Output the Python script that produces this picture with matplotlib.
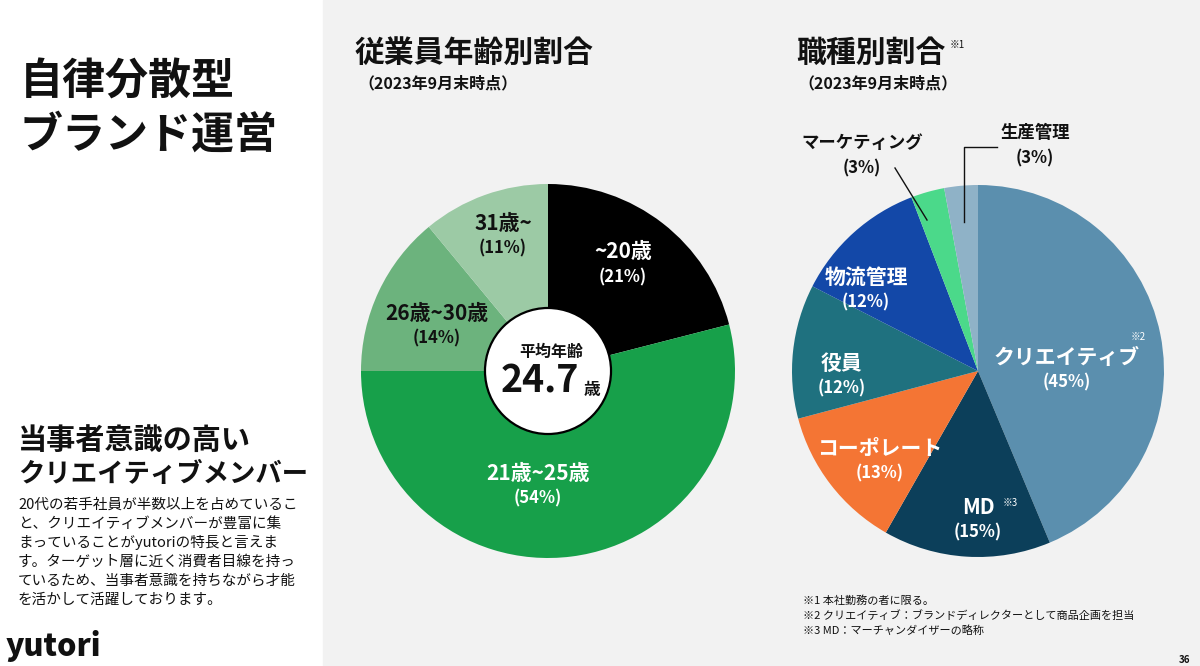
import matplotlib
matplotlib.use("Agg")
import matplotlib.pyplot as plt
from matplotlib.patches import Rectangle, Circle

plt.rcParams['font.family'] = ['Noto Sans CJK JP', 'DejaVu Sans']

# ---- data ----
age_labels = ["~20歳", "21歳~25歳", "26歳~30歳", "31歳~"]
age_values = [21, 54, 14, 11]
age_colors = ["#000000", "#17a04a", "#6cb37d", "#9ccaa5"]
age_text_colors = ["white", "white", "#111111", "#111111"]
avg_age = "24.7"

job_labels = ["クリエイティブ", "MD", "コーポレート", "役員", "物流管理", "マーケティング", "生産管理"]
job_values = [45, 15, 13, 12, 12, 3, 3]
job_colors = ["#5b8fae", "#0c3f5a", "#f47534", "#1f717f", "#1348a8", "#4bd98a", "#8fb2c7"]

W, H = 1200, 666
fig = plt.figure(figsize=(12, 6.66), dpi=100)

bg = fig.add_axes([0, 0, 1, 1], zorder=0)
bg.set_xlim(0, W); bg.set_ylim(H, 0); bg.axis('off')
bg.add_patch(Rectangle((0, 0), W, H, color="white"))
bg.add_patch(Rectangle((323, 0), W - 323, H, color="#f2f2f2"))

def pie_axes(cx, cy, r):
    ax = fig.add_axes([(cx - r) / W, (H - cy - r) / H, 2 * r / W, 2 * r / H], zorder=2)
    return ax

# ---- pie 1 ----
ax1 = pie_axes(548, 371, 187)
ax1.pie(age_values, colors=age_colors, startangle=90, counterclock=False,
        radius=1, wedgeprops=dict(linewidth=0))
ax1.set_xlim(-1, 1); ax1.set_ylim(-1, 1); ax1.set_aspect('equal'); ax1.axis('off')
ax1.add_patch(Circle((0, 0), 0.337, facecolor="white", edgecolor="black", linewidth=1.6, zorder=5))

# ---- pie 2 ----
ax2 = pie_axes(978, 371, 186)
ax2.pie(job_values, colors=job_colors, startangle=90, counterclock=False,
        radius=1, wedgeprops=dict(linewidth=0))
ax2.set_xlim(-1, 1); ax2.set_ylim(-1, 1); ax2.set_aspect('equal'); ax2.axis('off')

# ---- overlay for text ----
ov = fig.add_axes([0, 0, 1, 1], zorder=10)
ov.set_xlim(0, W); ov.set_ylim(H, 0); ov.axis('off'); ov.patch.set_alpha(0)

def t(x, y, s, size, color="#111111", weight="bold", ha="center", va="center"):
    ov.text(x, y, s, fontsize=size, color=color, fontweight=weight, ha=ha, va=va)

# left panel
t(20, 82, "自律分散型", 31, ha="left")
t(20, 135, "ブランド運営", 31, ha="left")
t(18, 440, "当事者意識の高い", 21, ha="left")
t(18, 474, "クリエイティブメンバー", 19, ha="left")
body = ["20代の若手社員が半数以上を占めているこ",
        "と、クリエイティブメンバーが豊富に集",
        "まっていることがyutoriの特長と言えま",
        "す。ターゲット層に近く消費者目線を持っ",
        "ているため、当事者意識を持ちながら才能",
        "を活かして活躍しております。"]
for i, line in enumerate(body):
    t(18, 505 + i * 19, line, 10.5, weight="normal", ha="left")
t(6, 646, "yutori", 22, weight="heavy", ha="left")

# titles
t(355, 53, "従業員年齢別割合", 21.5, ha="left")
t(358, 83, "（2023年9月末時点）", 11.5, ha="left")
t(796, 53, "職種別割合", 21.5, ha="left")
t(950, 45, "※1", 7, weight="normal", ha="left")
t(798, 83, "（2023年9月末時点）", 11.5, ha="left")

# pie 1 labels
age_pos = [(623, 252), (538, 473), (437, 313), (503, 223)]
for (x, y), lab, v, c in zip(age_pos, age_labels, age_values, age_text_colors):
    t(x, y, lab, 15, color=c)
    t(x, y + 25, f"({v}%)", 12, color=c, weight="semibold")
t(551, 352, "平均年齢", 11.5)
t(540, 381, avg_age, 27)
t(592, 390, "歳", 12)

# pie 2 labels
job_pos = [(1067, 357), (978, 507), (880, 448), (842, 363), (866, 277), (862, 143), (1035, 133)]
job_text_colors = ["white"] * 5 + ["#111111", "#111111"]
for (x, y), lab, v, c in zip(job_pos, job_labels, job_values, job_text_colors):
    size = 15 if c == "white" else 12.5
    t(x, y, lab, size, color=c)
    t(x, y + 25, f"({v}%)", 12, color=c, weight="semibold")
t(1138, 337, "※2", 7, color="white", weight="normal")
t(1010, 503, "※3", 7, color="white", weight="normal")

# leader lines
ov.plot([895, 927], [168, 220], color="#111111", lw=1)
ov.plot([997, 964, 964], [147, 147, 222], color="#111111", lw=1)

# footnotes
notes = ["※1 本社勤務の者に限る。",
         "※2 クリエイティブ：ブランドディレクターとして商品企画を担当",
         "※3 MD：マーチャンダイザーの略称"]
for i, n in enumerate(notes):
    t(803, 601 + i * 15, n, 8, weight="normal", ha="left")
t(1190, 660, "36", 7, ha="right")

fig.savefig("out.png", dpi=100)
